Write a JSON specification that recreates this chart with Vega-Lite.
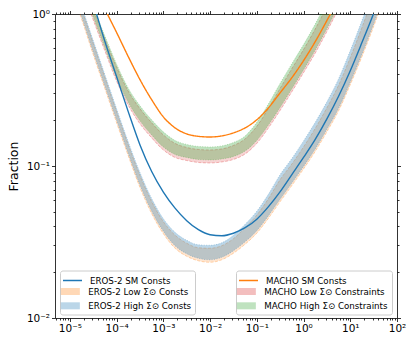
{
  "$schema": "https://vega.github.io/schema/vega-lite/v6.json",
  "width": 342,
  "height": 304,
  "autosize": {"type": "none"},
  "padding": {"left": 55, "top": 14, "right": 19, "bottom": 28},
  "background": "white",
  "config": {
    "view": {"stroke": null},
    "font": "DejaVu Sans",
    "axis": {"grid": false, "domainColor": "#000", "domainWidth": 0.8, "tickColor": "#000", "tickWidth": 0.8, "labelFont": "DejaVu Sans", "labelFontSize": 10.5, "labelColor": "#000", "titleFont": "DejaVu Sans", "titleFontWeight": "normal", "titleFontSize": 12.5, "titleColor": "#000", "labelFlush": false, "labelOverlap": false, "labelBound": false},
    "legend": {"labelFont": "DejaVu Sans", "labelFontSize": 8.7, "labelColor": "#000", "labelLimit": 300, "titleFont": "DejaVu Sans"}
  },
  "datasets": {
    "eros_sm": [
      {"x": 2.512e-5, "y": 1.452}, {"x": 3.162e-5, "y": 1.172}, {"x": 5.623e-5, "y": 0.6577}, {"x": 1e-4, "y": 0.3864},
      {"x": 1.778e-4, "y": 0.227}, {"x": 3.162e-4, "y": 0.1376}, {"x": 5.623e-4, "y": 0.09199}, {"x": 1e-3, "y": 0.06736},
      {"x": 1.778e-3, "y": 0.05282}, {"x": 3.162e-3, "y": 0.04368}, {"x": 5.623e-3, "y": 0.03809}, {"x": 0.01, "y": 0.03531},
      {"x": 0.01778, "y": 0.03478}, {"x": 0.03162, "y": 0.03612}, {"x": 0.05623, "y": 0.03927}, {"x": 0.1, "y": 0.04469},
      {"x": 0.1778, "y": 0.05403}, {"x": 0.3162, "y": 0.06787}, {"x": 0.5623, "y": 0.08788}, {"x": 1, "y": 0.1138},
      {"x": 1.778, "y": 0.1496}, {"x": 3.162, "y": 0.2042}, {"x": 5.623, "y": 0.2877}, {"x": 10, "y": 0.4236},
      {"x": 17.78, "y": 0.6486}, {"x": 31.62, "y": 1.008}, {"x": 56.23, "y": 1.639}
    ],
    "macho_sm": [
      {"x": 3.162e-5, "y": 1.496}, {"x": 5.623e-5, "y": 1.072}, {"x": 1e-4, "y": 0.7551}, {"x": 1.778e-4, "y": 0.5236},
      {"x": 3.162e-4, "y": 0.3698}, {"x": 5.623e-4, "y": 0.2729}, {"x": 1e-3, "y": 0.2104}, {"x": 1.778e-3, "y": 0.1782},
      {"x": 3.162e-3, "y": 0.1626}, {"x": 5.623e-3, "y": 0.1567}, {"x": 0.01, "y": 0.1552}, {"x": 0.01778, "y": 0.1578},
      {"x": 0.03162, "y": 0.1652}, {"x": 0.05623, "y": 0.1782}, {"x": 0.1, "y": 0.2014}, {"x": 0.1778, "y": 0.2415},
      {"x": 0.3162, "y": 0.3034}, {"x": 0.5623, "y": 0.3811}, {"x": 1, "y": 0.4932}, {"x": 1.778, "y": 0.6577},
      {"x": 3.162, "y": 0.9057}, {"x": 5.623, "y": 1.265}, {"x": 10, "y": 1.824}
    ],
    "eros_band": [
      {"x": 1e-5, "lowLo": 1.554, "lowHi": 1.809, "highLo": 1.614, "highHi": 1.892},
      {"x": 1.778e-5, "lowLo": 0.9268, "lowHi": 1.079, "highLo": 0.9627, "highHi": 1.129},
      {"x": 3.162e-5, "lowLo": 0.5403, "lowHi": 0.6387, "highLo": 0.5613, "highHi": 0.6685},
      {"x": 5.623e-5, "lowLo": 0.3223, "lowHi": 0.3809, "highLo": 0.3348, "highHi": 0.3987},
      {"x": 1e-4, "lowLo": 0.1923, "lowHi": 0.2273, "highLo": 0.1997, "highHi": 0.2379},
      {"x": 1.778e-4, "lowLo": 0.1165, "lowHi": 0.1376, "highLo": 0.1209, "highHi": 0.144},
      {"x": 3.162e-4, "lowLo": 0.07214, "lowHi": 0.0866, "highLo": 0.07494, "highHi": 0.09062},
      {"x": 5.623e-4, "lowLo": 0.0486, "lowHi": 0.05831, "highLo": 0.05048, "highHi": 0.06104},
      {"x": 1e-3, "lowLo": 0.03586, "lowHi": 0.04303, "highLo": 0.03724, "highHi": 0.04504},
      {"x": 1.778e-3, "lowLo": 0.02877, "lowHi": 0.03505, "highLo": 0.02988, "highHi": 0.03668},
      {"x": 3.162e-3, "lowLo": 0.02547, "lowHi": 0.03104, "highLo": 0.02646, "highHi": 0.03249},
      {"x": 5.623e-3, "lowLo": 0.02379, "lowHi": 0.02898, "highLo": 0.02471, "highHi": 0.03034},
      {"x": 0.01, "lowLo": 0.02325, "lowHi": 0.02877, "highLo": 0.02415, "highHi": 0.03011},
      {"x": 0.01778, "lowLo": 0.02415, "lowHi": 0.02988, "highLo": 0.02509, "highHi": 0.03127},
      {"x": 0.03162, "lowLo": 0.02667, "lowHi": 0.03323, "highLo": 0.02769, "highHi": 0.03505},
      {"x": 0.05623, "lowLo": 0.03057, "lowHi": 0.03928, "highLo": 0.03175, "highHi": 0.04143},
      {"x": 0.1, "lowLo": 0.03613, "lowHi": 0.0475, "highLo": 0.03753, "highHi": 0.05047},
      {"x": 0.1778, "lowLo": 0.04538, "lowHi": 0.06104, "highLo": 0.04714, "highHi": 0.06536},
      {"x": 0.3162, "lowLo": 0.05831, "lowHi": 0.08147, "highLo": 0.06058, "highHi": 0.0879},
      {"x": 0.5623, "lowLo": 0.07437, "lowHi": 0.1031, "highLo": 0.07725, "highHi": 0.1121},
      {"x": 1, "lowLo": 0.09556, "lowHi": 0.1335, "highLo": 0.09927, "highHi": 0.1462},
      {"x": 1.778, "lowLo": 0.1247, "lowHi": 0.1768, "highLo": 0.1295, "highHi": 0.1937},
      {"x": 3.162, "lowLo": 0.1678, "lowHi": 0.2415, "highLo": 0.1742, "highHi": 0.2646},
      {"x": 5.623, "lowLo": 0.2307, "lowHi": 0.3399, "highLo": 0.2397, "highHi": 0.3753},
      {"x": 10, "lowLo": 0.3425, "lowHi": 0.5163, "highLo": 0.3558, "highHi": 0.5742},
      {"x": 17.78, "lowLo": 0.5242, "lowHi": 0.8146, "highLo": 0.5445, "highHi": 0.906},
      {"x": 31.62, "lowLo": 0.827, "lowHi": 1.325, "highLo": 0.859, "highHi": 1.474},
      {"x": 56.23, "lowLo": 1.345, "lowHi": 2.154, "highLo": 1.397, "highHi": 2.396}
    ],
    "macho_band": [
      {"x": 1.778e-5, "lowLo": 1.467, "lowHi": 1.682, "highLo": 1.535, "highHi": 1.76},
      {"x": 3.162e-5, "lowLo": 0.9129, "lowHi": 1.063, "highLo": 0.9554, "highHi": 1.112},
      {"x": 5.623e-5, "lowLo": 0.5699, "lowHi": 0.6839, "highLo": 0.5965, "highHi": 0.7158},
      {"x": 1e-4, "lowLo": 0.3612, "lowHi": 0.4469, "highLo": 0.3781, "highHi": 0.4677},
      {"x": 1.778e-4, "lowLo": 0.2509, "lowHi": 0.3103, "highLo": 0.2625, "highHi": 0.3248},
      {"x": 3.162e-4, "lowLo": 0.1893, "lowHi": 0.2378, "highLo": 0.1982, "highHi": 0.249},
      {"x": 5.623e-4, "lowLo": 0.1531, "lowHi": 0.1923, "highLo": 0.1602, "highHi": 0.2012},
      {"x": 1e-3, "lowLo": 0.1275, "lowHi": 0.1602, "highLo": 0.1335, "highHi": 0.1677},
      {"x": 1.778e-3, "lowLo": 0.1138, "lowHi": 0.1408, "highLo": 0.1191, "highHi": 0.1474},
      {"x": 3.162e-3, "lowLo": 0.1087, "lowHi": 0.1325, "highLo": 0.1138, "highHi": 0.1387},
      {"x": 5.623e-3, "lowLo": 0.1055, "lowHi": 0.1285, "highLo": 0.1104, "highHi": 0.1345},
      {"x": 0.01, "lowLo": 0.1047, "lowHi": 0.1275, "highLo": 0.1096, "highHi": 0.1335},
      {"x": 0.01778, "lowLo": 0.1063, "lowHi": 0.1295, "highLo": 0.1112, "highHi": 0.1356},
      {"x": 0.03162, "lowLo": 0.1104, "lowHi": 0.1365, "highLo": 0.1156, "highHi": 0.1429},
      {"x": 0.05623, "lowLo": 0.12, "lowHi": 0.1508, "highLo": 0.1256, "highHi": 0.1578},
      {"x": 0.1, "lowLo": 0.1408, "lowHi": 0.1823, "highLo": 0.1474, "highHi": 0.1937},
      {"x": 0.1778, "lowLo": 0.1782, "lowHi": 0.2397, "highLo": 0.1865, "highHi": 0.2566},
      {"x": 0.3162, "lowLo": 0.2325, "lowHi": 0.3248, "highLo": 0.2434, "highHi": 0.3504},
      {"x": 0.5623, "lowLo": 0.3079, "lowHi": 0.4368, "highLo": 0.3223, "highHi": 0.4713},
      {"x": 1, "lowLo": 0.4111, "lowHi": 0.583, "highLo": 0.4302, "highHi": 0.6291},
      {"x": 1.778, "lowLo": 0.5528, "lowHi": 0.7962, "highLo": 0.5786, "highHi": 0.859},
      {"x": 3.162, "lowLo": 0.7664, "lowHi": 1.121, "highLo": 0.8023, "highHi": 1.209},
      {"x": 5.623, "lowLo": 1.087, "lowHi": 1.59, "highLo": 1.138, "highHi": 1.715}
    ]
  },
  "resolve": {"axis": {"x": "independent", "y": "independent"}},
  "layer": [
    {
      "data": {"name": "eros_band"},
      "mark": {"type": "area", "interpolate": "monotone", "clip": true, "fillOpacity": 0.2, "stroke": "#ff7f0e", "strokeOpacity": 0.3, "strokeWidth": 1, "strokeDash": [3, 1.5]},
      "encoding": {
        "x": {"field": "x", "type": "quantitative", "scale": {"type": "log", "domain": [4.8e-6, 100], "nice": false},
          "axis": {"orient": "bottom", "title": null, "labelPadding": 2,
            "values": [5e-6, 6e-6, 7e-6, 8e-6, 9e-6, 1e-5, 2e-5, 3e-5, 4e-5, 5e-5, 6e-5, 7e-5, 8e-5, 9e-5, 1e-4, 2e-4, 3e-4, 4e-4, 5e-4, 6e-4, 7e-4, 8e-4, 9e-4, 1e-3, 2e-3, 3e-3, 4e-3, 5e-3, 6e-3, 7e-3, 8e-3, 9e-3, 0.01, 0.02, 0.03, 0.04, 0.05, 0.06, 0.07, 0.08, 0.09, 0.1, 0.2, 0.3, 0.4, 0.5, 0.6, 0.7, 0.8, 0.9, 1, 2, 3, 4, 5, 6, 7, 8, 9, 10, 20, 30, 40, 50, 60, 70, 80, 90, 100],
            "labelExpr": "abs(log(datum.value)/LN10 - round(log(datum.value)/LN10)) < 0.01 ? ['10⁻⁵','10⁻⁴','10⁻³','10⁻²','10⁻¹','10⁰','10¹','10²'][round(log(datum.value)/LN10)+5] : ''",
            "tickSize": {"condition": {"test": "abs(log(datum.value)/LN10 - round(log(datum.value)/LN10)) < 0.01", "value": 3.5}, "value": 2}}},
        "y": {"field": "lowLo", "type": "quantitative", "scale": {"type": "log", "domain": [0.01, 1], "nice": false},
          "axis": {"orient": "left", "title": "Fraction", "titlePadding": 6, "labelPadding": 2,
            "values": [0.01, 0.02, 0.03, 0.04, 0.05, 0.06, 0.07, 0.08, 0.09, 0.1, 0.2, 0.3, 0.4, 0.5, 0.6, 0.7, 0.8, 0.9, 1],
            "labelExpr": "abs(log(datum.value)/LN10 - round(log(datum.value)/LN10)) < 0.01 ? ['10⁻²','10⁻¹','10⁰'][round(log(datum.value)/LN10)+2] : ''",
            "tickSize": {"condition": {"test": "abs(log(datum.value)/LN10 - round(log(datum.value)/LN10)) < 0.01", "value": 3.5}, "value": 2}}},
        "y2": {"field": "lowHi"},
        "color": {"datum": "EROS-2 Low Σ⊙ Consts", "type": "nominal",
          "scale": {"domain": ["EROS-2 Low Σ⊙ Consts", "EROS-2 High Σ⊙ Consts"], "range": ["#ff7f0e", "#1f77b4"]},
          "legend": {"orient": "none", "legendX": 5, "legendY": 256.5, "zindex": 1, "title": " ", "titleFontSize": 8.7, "titlePadding": 4.45,
            "symbolType": "M-2.714,-1H2.714V1H-2.714Z", "symbolSize": 49, "symbolStrokeWidth": 0, "symbolOpacity": 0.3,
            "symbolOffset": 2.5, "labelOffset": 13.5, "rowPadding": 4.3, "padding": 3.5,
            "fillColor": "rgba(255,255,255,0.8)", "strokeColor": "#cccccc", "cornerRadius": 2.5}}
      }
    },
    {
      "data": {"name": "eros_band"},
      "mark": {"type": "area", "interpolate": "monotone", "clip": true, "fillOpacity": 0.3, "stroke": "#1f77b4", "strokeOpacity": 0.3, "strokeWidth": 1, "strokeDash": [1, 1.5]},
      "encoding": {
        "x": {"field": "x", "type": "quantitative", "scale": {"type": "log", "domain": [4.8e-6, 100], "nice": false},
          "axis": {"orient": "top", "title": null, "labels": false,
            "values": [5e-6, 6e-6, 7e-6, 8e-6, 9e-6, 1e-5, 2e-5, 3e-5, 4e-5, 5e-5, 6e-5, 7e-5, 8e-5, 9e-5, 1e-4, 2e-4, 3e-4, 4e-4, 5e-4, 6e-4, 7e-4, 8e-4, 9e-4, 1e-3, 2e-3, 3e-3, 4e-3, 5e-3, 6e-3, 7e-3, 8e-3, 9e-3, 0.01, 0.02, 0.03, 0.04, 0.05, 0.06, 0.07, 0.08, 0.09, 0.1, 0.2, 0.3, 0.4, 0.5, 0.6, 0.7, 0.8, 0.9, 1, 2, 3, 4, 5, 6, 7, 8, 9, 10, 20, 30, 40, 50, 60, 70, 80, 90, 100],
            "tickSize": {"condition": {"test": "abs(log(datum.value)/LN10 - round(log(datum.value)/LN10)) < 0.01", "value": 3.5}, "value": 2}}},
        "y": {"field": "highLo", "type": "quantitative", "scale": {"type": "log", "domain": [0.01, 1], "nice": false},
          "axis": {"orient": "right", "title": null, "labels": false,
            "values": [0.01, 0.02, 0.03, 0.04, 0.05, 0.06, 0.07, 0.08, 0.09, 0.1, 0.2, 0.3, 0.4, 0.5, 0.6, 0.7, 0.8, 0.9, 1],
            "tickSize": {"condition": {"test": "abs(log(datum.value)/LN10 - round(log(datum.value)/LN10)) < 0.01", "value": 3.5}, "value": 2}}},
        "y2": {"field": "highHi"},
        "color": {"datum": "EROS-2 High Σ⊙ Consts", "type": "nominal"}
      }
    },
    {
      "data": {"name": "macho_band"},
      "mark": {"type": "area", "interpolate": "monotone", "clip": true, "fillOpacity": 0.2, "stroke": "#d62728", "strokeOpacity": 0.3, "strokeWidth": 1, "strokeDash": [3, 1.5]},
      "encoding": {
        "x": {"field": "x", "type": "quantitative", "scale": {"type": "log", "domain": [4.8e-6, 100], "nice": false}, "axis": null},
        "y": {"field": "lowLo", "type": "quantitative", "scale": {"type": "log", "domain": [0.01, 1], "nice": false}, "axis": null},
        "y2": {"field": "lowHi"},
        "fill": {"datum": "MACHO Low Σ⊙ Constraints", "type": "nominal",
          "scale": {"domain": ["MACHO Low Σ⊙ Constraints", "MACHO High Σ⊙ Constraints"], "range": ["#d62728", "#2ca02c"]},
          "legend": {"orient": "none", "legendX": 181, "legendY": 256.5, "zindex": 1, "title": " ", "titleFontSize": 8.7, "titlePadding": 4.45,
            "symbolType": "M-2.714,-1H2.714V1H-2.714Z", "symbolSize": 49, "symbolStrokeWidth": 0, "symbolOpacity": 0.3,
            "symbolOffset": 2.5, "labelOffset": 13.5, "rowPadding": 4.3, "padding": 3.5,
            "fillColor": "rgba(255,255,255,0.8)", "strokeColor": "#cccccc", "cornerRadius": 2.5}}
      }
    },
    {
      "data": {"name": "macho_band"},
      "mark": {"type": "area", "interpolate": "monotone", "clip": true, "fillOpacity": 0.3, "stroke": "#2ca02c", "strokeOpacity": 0.3, "strokeWidth": 1, "strokeDash": [1, 1.5]},
      "encoding": {
        "x": {"field": "x", "type": "quantitative", "scale": {"type": "log", "domain": [4.8e-6, 100], "nice": false}, "axis": null},
        "y": {"field": "highLo", "type": "quantitative", "scale": {"type": "log", "domain": [0.01, 1], "nice": false}, "axis": null},
        "y2": {"field": "highHi"},
        "fill": {"datum": "MACHO High Σ⊙ Constraints", "type": "nominal"}
      }
    },
    {
      "data": {"name": "eros_sm"},
      "mark": {"type": "line", "interpolate": "monotone", "clip": true, "strokeWidth": 1.4},
      "encoding": {
        "x": {"field": "x", "type": "quantitative", "scale": {"type": "log", "domain": [4.8e-6, 100], "nice": false}, "axis": null},
        "y": {"field": "y", "type": "quantitative", "scale": {"type": "log", "domain": [0.01, 1], "nice": false}, "axis": null},
        "stroke": {"datum": "EROS-2 SM Consts", "type": "nominal",
          "scale": {"domain": ["EROS-2 SM Consts"], "range": ["#1f77b4"]},
          "legend": {"orient": "none", "legendX": 5, "legendY": 256, "zindex": 2, "title": null,
            "symbolType": "stroke", "symbolSize": 361, "symbolStrokeWidth": 1.5, "symbolStrokeColor": "#1f77b4",
            "symbolOffset": 2, "labelOffset": 7, "padding": 0}}
      }
    },
    {
      "data": {"name": "macho_sm"},
      "mark": {"type": "line", "interpolate": "monotone", "clip": true, "strokeWidth": 1.4, "color": "#ff7f0e"},
      "encoding": {
        "x": {"field": "x", "type": "quantitative", "scale": {"type": "log", "domain": [4.8e-6, 100], "nice": false}, "axis": null},
        "y": {"field": "y", "type": "quantitative", "scale": {"type": "log", "domain": [0.01, 1], "nice": false}, "axis": null},
        "strokeDash": {"datum": "MACHO SM Consts", "type": "nominal",
          "scale": {"domain": ["MACHO SM Consts"], "range": [[1, 0]]},
          "legend": {"orient": "none", "legendX": 181, "legendY": 256, "zindex": 2, "title": null,
            "symbolType": "stroke", "symbolSize": 361, "symbolStrokeWidth": 1.5, "symbolStrokeColor": "#ff7f0e",
            "symbolOffset": 2, "labelOffset": 7, "padding": 0}}
      }
    }
  ]
}
